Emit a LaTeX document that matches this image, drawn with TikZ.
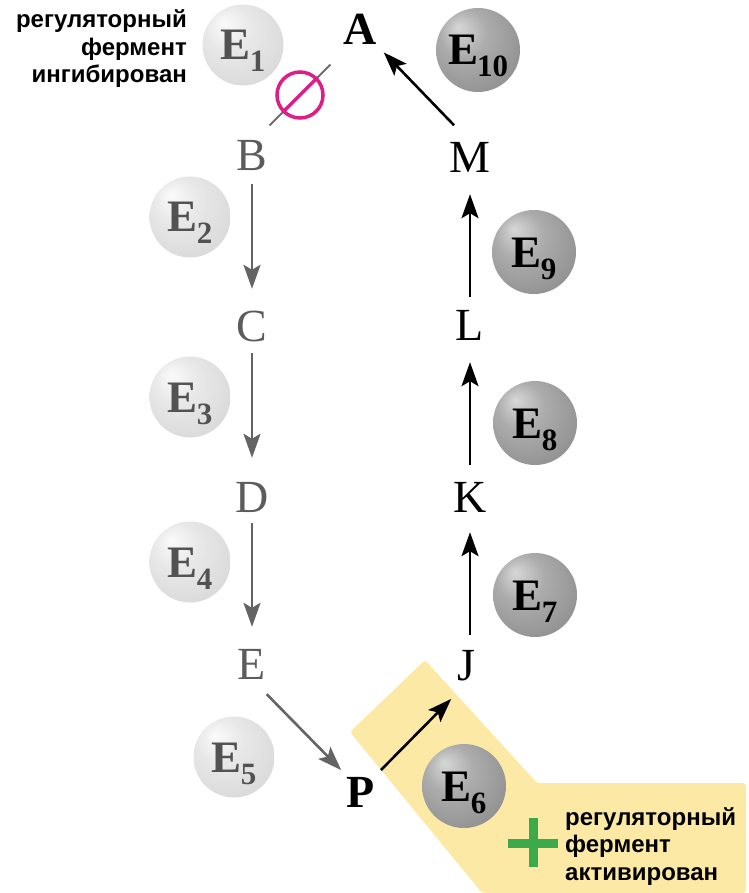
\documentclass[tikz,border=0pt]{standalone}
\usepackage{fontspec}
\setmainfont{Liberation Serif}
\newfontfamily\notefont{Liberation Sans}
\usetikzlibrary{arrows.meta,calc}

% palette
\definecolor{mgray}{RGB}{92,92,92}
\definecolor{agray}{RGB}{100,100,100}
\definecolor{lbtext}{RGB}{82,82,82}
\definecolor{lbhi}{RGB}{250,250,250}
\definecolor{lbmid}{RGB}{232,232,232}
\definecolor{lbout}{RGB}{212,212,212}
\definecolor{lbedge}{RGB}{196,196,196}
\definecolor{dbhi}{RGB}{215,215,215}
\definecolor{dbmid}{RGB}{172,172,172}
\definecolor{dbout}{RGB}{135,135,135}
\definecolor{dbedge}{RGB}{108,108,108}
\definecolor{band}{RGB}{252,233,166}
\definecolor{inhib}{RGB}{222,30,135}
\definecolor{inhline}{RGB}{110,110,110}
\definecolor{plusgreen}{RGB}{58,170,75}

% enzyme spheres
\pgfdeclareradialshading{lightball}{\pgfpoint{-12bp}{14bp}}{%
  color(0bp)=(lbhi); color(14bp)=(lbmid); color(40bp)=(lbout); color(50bp)=(lbedge)}
\pgfdeclareradialshading{darkball}{\pgfpoint{-12bp}{14bp}}{%
  color(0bp)=(dbhi); color(14bp)=(dbmid); color(40bp)=(dbout); color(50bp)=(dbedge)}

\newcommand\enz[1]{E\kern-1pt\raisebox{-12pt}{\fontsize{31}{31}\selectfont #1}}

\tikzset{
  metab/.style={inner sep=0pt, text height=31pt, text depth=0pt, anchor=base,
                font=\fontsize{46}{46}\selectfont},
  graymetab/.style={metab, text=mgray},
  blackmetab/.style={metab, text=black},
  boldmetab/.style={metab, text=black, font=\fontsize{46}{46}\selectfont\bfseries},
  enzyme/.style={circle, inner sep=0pt, text height=30pt, text depth=0pt,
                 font=\fontsize{45}{45}\selectfont\bfseries},
  lightenz/.style={enzyme, minimum size=81pt, shade, shading=lightball, text=lbtext},
  darkenz/.style={enzyme, minimum size=84pt, shade, shading=darkball, text=black},
  tip/.style={-{Stealth[length=24pt,width=17pt,inset=5pt]}},
  grayarrow/.style={tip, draw=agray, line width=2.6pt},
  blackarrow/.style={tip, draw=black, line width=2.6pt},
  note/.style={inner sep=0pt, text=black,
               font=\notefont\bfseries\fontsize{24}{27.5}\selectfont},
}

\begin{document}
\begin{tikzpicture}[x=1pt, y=-1pt]
\useasboundingbox (0,0) rectangle (748,893);

% highlighted band of the activated step
\fill[band, rounded corners=3pt] (425,660) -- (537,783) -- (746,783)
  -- (746,893) -- (482,893) -- (350,732) -- cycle;

% metabolites
\node[boldmetab]  (A) at (360,45)  {A};
\node[graymetab]  (B) at (252,171) {B};
\node[graymetab]  (C) at (252,341) {C};
\node[graymetab]  (D) at (252,512) {D};
\node[graymetab]  (E) at (252,679) {E};
\node[boldmetab]  (P) at (361,807) {P};
\node[blackmetab, text depth=13pt] (J) at (466,680) {J};
\node[blackmetab] (K) at (470,512) {K};
\node[blackmetab] (L) at (470,340) {L};
\node[blackmetab] (M) at (470,173) {M};

% enzymes
\node[lightenz] (E1)  at (243,45)  {\enz{1}};
\node[lightenz] (E2)  at (190,217) {\enz{2}};
\node[lightenz] (E3)  at (190,397) {\enz{3}};
\node[lightenz] (E4)  at (190,562) {\enz{4}};
\node[lightenz] (E5)  at (234,757) {\enz{5}};
\node[darkenz]  (E6)  at (464,786) {\enz{6}};
\node[darkenz]  (E7)  at (535,595) {\enz{7}};
\node[darkenz]  (E8)  at (535,423) {\enz{8}};
\node[darkenz]  (E9)  at (534,252) {\enz{9}};
\node[darkenz]  (E10) at (478,50)  {\enz{10}};

% inhibited branch (B -> A)
\node[circle, draw=inhib, line width=3.5pt, minimum size=46pt, inner sep=0pt] (X) at (300,95) {};
\draw[inhline, line width=2pt]
  ($(X.south west)!-0.37!(X.north east)$) -- ($(X.north east)!-0.37!(X.south west)$);
\draw[inhib, line width=3.5pt] (X.south west) -- (X.north east);

% gray (inactive) pathway
\draw[grayarrow, shorten <=13pt, shorten >=21pt] (B) -- (C);
\draw[grayarrow, shorten <=12pt, shorten >=23pt] (C) -- (D);
\draw[grayarrow, shorten <=11pt, shorten >=21pt] (D) -- (E);
\draw[grayarrow, shorten <=21pt, shorten >=8pt] (E.south) -- (P.north west);

% black (active) pathway
\draw[blackarrow, shorten <=8pt, shorten >=8pt] (P.north east) -- (J.south west);
\draw[blackarrow, shorten <=14pt, shorten >=20pt] (K |- J.north) -- (K);
\draw[blackarrow, shorten <=16pt, shorten >=22pt] (K) -- (L);
\draw[blackarrow, shorten <=12pt, shorten >=21pt] (L) -- (M);
\draw[blackarrow, shorten <=23pt, shorten >=10pt] (M.north) -- (A.south east);

% activation mark
\draw[plusgreen, line width=9pt] (508,843) -- (558,843) (533,818) -- (533,867);

% notes
\node[note, anchor=base east] (inhnote) at (187,28)
  {\begin{tabular}[t]{@{}r@{}}регуляторный\\фермент\\ингибирован\end{tabular}};
\node[note, anchor=base west] (actnote) at (565,825)
  {\begin{tabular}[t]{@{}l@{}}регуляторный\\фермент\\активирован\end{tabular}};
\end{tikzpicture}
\end{document}
